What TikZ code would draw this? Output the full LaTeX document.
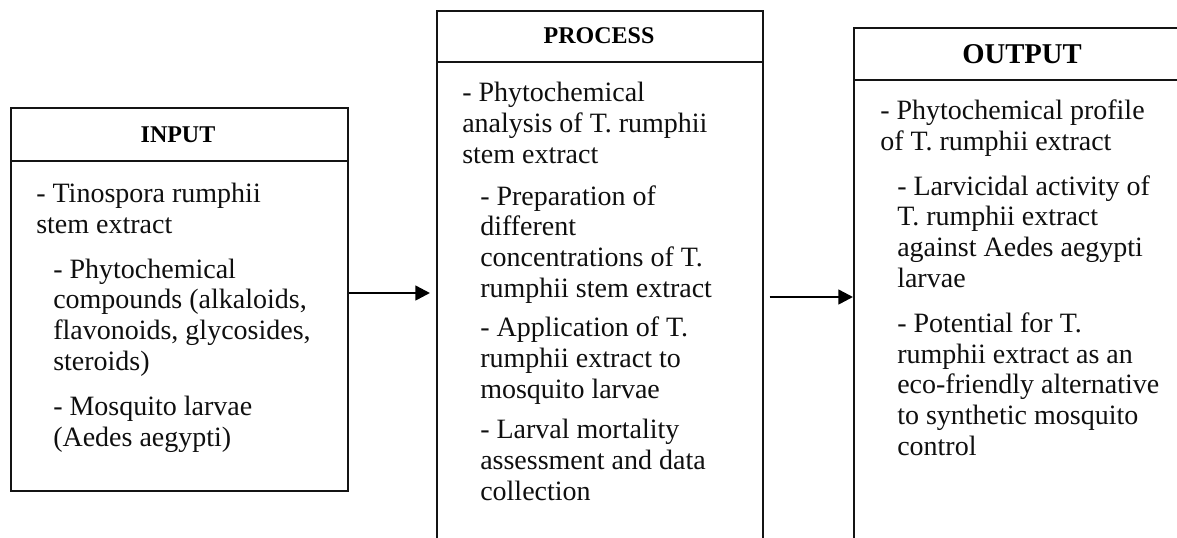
\documentclass[tikz,border=0pt]{standalone}
\usepackage{fontspec}
\setmainfont{Liberation Serif}
\usepackage{tikz}
\usetikzlibrary{arrows.meta, positioning}
\definecolor{FrameBlack}{RGB}{20,20,20}
\definecolor{TextBlack}{RGB}{15,15,15}

\begin{document}
\begin{tikzpicture}[x=0.75pt, y=-0.75pt,
	panel/.style={draw=FrameBlack, line width=1.2pt, inner sep=0pt, anchor=north west},
	headtext/.style={font=\bfseries\fontsize{18}{20}\selectfont, anchor=base, inner sep=0pt},
	itemtext/.style={TextBlack, font=\fontsize{21}{23}\selectfont, align=left, anchor=base west, inner sep=0pt},
	flow/.style={draw=black, line width=1.9pt, -{Triangle[length=11pt, width=11pt]}}]
	\useasboundingbox (0,0) rectangle (1177,537);
	\clip (0,0) rectangle (1177,537);

	\node[panel, minimum width=252.75pt, minimum height=287.25pt] (input) at (10,107) {};
	\node[panel, minimum width=244.5pt, minimum height=412.5pt] (process) at (436,10) {};
	\node[panel, minimum width=253.5pt, minimum height=400pt] (output) at (853,27) {};
	\draw[draw=FrameBlack, line width=1.2pt] (input.west |- 0,161) -- (input.east |- 0,161);
	\draw[draw=FrameBlack, line width=1.2pt] (process.west |- 0,62) -- (process.east |- 0,62);
	\draw[draw=FrameBlack, line width=1.2pt] (output.west |- 0,80) -- (output.east |- 0,80);

	\node[headtext] (inhead) at (178,142) {INPUT};
	\node[headtext] (prhead) at (599,43) {PROCESS};
	\node[headtext, font=\bfseries\fontsize{21.5}{24}\selectfont] (outhead) at (1022,63) {OUTPUT};

	\node[itemtext] (in1) at (36,233) {- Tinospora rumphii\\stem extract};
	\node[itemtext] (in2) at (53,370) {- Phytochemical\\compounds (alkaloids,\\flavonoids, glycosides,\\steroids)};
	\node[itemtext] (in3) at (53,446) {- Mosquito larvae\\(Aedes aegypti)};

	\node[itemtext] (pr1) at (462,163) {- Phytochemical\\analysis of T. rumphii\\stem extract};
	\node[itemtext] (pr2) at (480,297) {- Preparation of\\different\\concentrations of T.\\rumphii stem extract};
	\node[itemtext] (pr3) at (480,398) {- Application of T.\\rumphii extract to\\mosquito larvae};
	\node[itemtext] (pr4) at (480,500) {- Larval mortality\\assessment and data\\collection};

	\node[itemtext] (out1) at (880,150) {- Phytochemical profile\\of T. rumphii extract};
	\node[itemtext] (out2) at (897,287) {- Larvicidal activity of\\T. rumphii extract\\against Aedes aegypti\\larvae};
	\node[itemtext] (out3) at (897,455) {- Potential for T.\\rumphii extract as an\\eco-friendly alternative\\to synthetic mosquito\\control};

	\coordinate (lvl1) at (0,293);
	\coordinate (lvl2) at (0,297);
	\draw[flow] (input.east |- lvl1) -- ([xshift=-4.5pt]process.west |- lvl1);
	\draw[flow] ([xshift=4.5pt]process.east |- lvl2) -- (output.west |- lvl2);
\end{tikzpicture}
\end{document}
